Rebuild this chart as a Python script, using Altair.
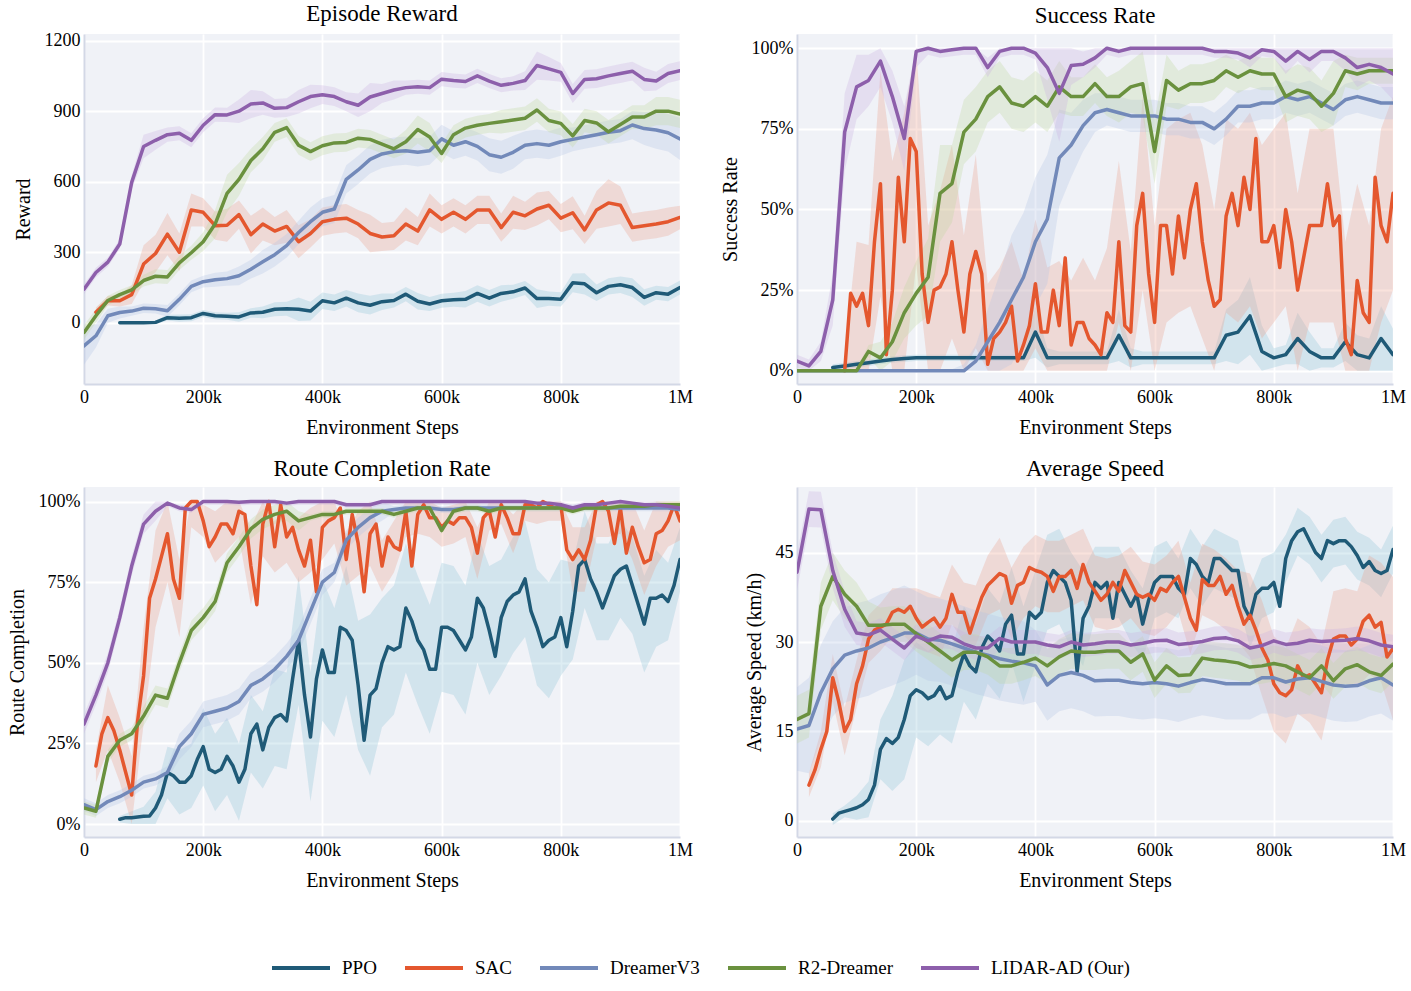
import altair as alt
import pandas as pd

FONT = "Liberation Serif"
SERIES = ["PPO", "SAC", "DreamerV3", "R2-Dreamer", "LIDAR-AD (Our)"]
LINE_COLORS = ["#1f5a77", "#e4572e", "#7289b9", "#6a913e", "#8d5fab"]
BAND_COLORS = {"PPO": "#8ec5d8", "SAC": "#eaa08c", "DreamerV3": "#b3c3e3",
               "R2-Dreamer": "#bfd6a0", "LIDAR-AD (Our)": "#cbb0e0"}

STEPS_10K = list(range(0, 1000001, 10000))
STEPS_20K = list(range(0, 1000001, 20000))
X_TICKS = [0, 200000, 400000, 600000, 800000, 1000000]

N = None
# ---------------- Episode Reward (20k grid) ----------------
ER_PPO = [N, N, N, 0, 0, 0, 2, 22, 20, 22,
          40, 30, 28, 25, 42, 45, 58, 60, 58, 50,
          94, 85, 105, 85, 75, 90, 95, 122, 92, 80,
          94, 98, 100, 125, 105, 125, 132, 148, 103, 103,
          100, 170, 166, 128, 155, 162, 150, 108, 128, 122,
          150]
ER_SAC = [N, 45, 94, 94, 120, 250, 295, 377, 300, 480,
          470, 413, 415, 460, 375, 420, 390, 410, 345, 380,
          430, 440, 445, 420, 380, 365, 370, 420, 390, 480,
          440, 470, 440, 480, 480, 405, 470, 455, 484, 500,
          445, 468, 395, 480, 510, 500, 405, 413, 420, 430,
          448]
ER_DREAMER = [-98, -55, 30, 44, 50, 62, 60, 51, 100, 155,
              175, 183, 188, 200, 228, 260, 290, 328, 384, 430,
              470, 484, 610, 650, 695, 718, 728, 732, 725, 732,
              782, 755, 770, 750, 715, 704, 725, 755, 762, 755,
              770, 780, 790, 800, 810, 817, 841, 826, 820, 808,
              782]
ER_R2 = [-41, 30, 95, 120, 140, 180, 198, 195, 255, 298,
         345, 420, 550, 610, 690, 740, 810, 830, 755, 728,
         753, 765, 767, 785, 780, 760, 740, 770, 822, 790,
         720, 800, 828, 840, 848, 855, 862, 870, 905, 860,
         848, 795, 860, 850, 812, 843, 875, 875, 900, 900,
         888]
ER_LIDAR = [143, 214, 258, 335, 597, 750, 776, 800, 806, 776,
            840, 885, 884, 900, 930, 935, 912, 915, 940, 962,
            970, 962, 940, 925, 960, 975, 990, 1000, 1004, 1000,
            1036, 1030, 1026, 1050, 1028, 1010, 1018, 1030, 1094, 1080,
            1065, 975, 1035, 1038, 1050, 1060, 1070, 1035, 1028, 1060,
            1072]
ER_PPO_SD = [0, 0, 0, 5, 5, 5, 8, 12, 15, 15,
             15, 15, 15, 20, 20, 25, 30, 30, 50, 40,
             35, 35, 35, 40, 40, 35, 30, 30, 35, 30,
             30, 30, 35, 35, 35, 35, 30, 30, 40, 30,
             30, 40, 45, 35, 35, 35, 40, 35, 30, 30,
             30]
ER_SAC_SD = [0, 20, 20, 25, 40, 80, 80, 90, 80, 70,
             60, 60, 70, 60, 80, 70, 60, 70, 70, 60,
             60, 60, 60, 60, 80, 60, 60, 70, 60, 70,
             60, 60, 60, 60, 60, 60, 70, 60, 70, 60,
             60, 70, 60, 80, 100, 80, 60, 60, 60, 60,
             50]
ER_DREAMER_SD = [80, 50, 30, 25, 20, 20, 20, 25, 25, 25,
                 25, 30, 30, 40, 40, 50, 50, 50, 50, 60,
                 60, 60, 60, 60, 60, 60, 60, 60, 60, 60,
                 60, 60, 60, 60, 70, 70, 70, 60, 60, 60,
                 60, 50, 50, 50, 50, 50, 60, 70, 80, 80,
                 90]
ER_R2_SD = [30, 30, 20, 20, 20, 25, 30, 30, 30, 30,
            40, 60, 80, 70, 50, 50, 40, 40, 40, 40,
            40, 40, 40, 40, 40, 40, 40, 50, 60, 60,
            40, 40, 40, 40, 40, 50, 50, 50, 50, 50,
            50, 50, 50, 50, 50, 50, 50, 50, 60, 60,
            60]
ER_LIDAR_SD = [20, 20, 20, 20, 30, 50, 40, 30, 30, 30,
               30, 30, 30, 50, 60, 50, 40, 40, 50, 50,
               40, 40, 40, 50, 60, 40, 40, 30, 30, 30,
               30, 30, 30, 30, 30, 30, 30, 40, 60, 50,
               40, 40, 40, 40, 40, 40, 40, 50, 40, 40,
               40]

# ---------------- Success Rate ----------------
SR_PPO = [N, N, N, 1, 1.5, 2, 2.5, 3, 3.5, 3.8,
          4, 4, 4, 4, 4, 4, 4, 4, 4, 4,
          12, 4, 4, 4, 4, 4, 4, 11, 4, 4,
          4, 4, 4, 4, 4, 4, 11, 12, 17, 6,
          4, 5, 10, 6, 4, 4, 9, 5, 4, 10,
          5]
SR_SAC = [N, N, N, N, N, N, N, N, 0, 24,
          20, 24, 14, 40, 58, 5, 25, 60, 40, 72,
          68, 30, 15, 25, 26, 30, 40, 25, 12, 30,
          37, 30, 2, 10, 12, 15, 20, 3, 8, 14,
          27, 12, 12, 25, 14, 35, 8, 15, 15, 10,
          8, 5, 18, 15, 40, 14, 12, 45, 55, 30,
          15, 45, 45, 30, 48, 35, 50, 58, 40, 28,
          20, 22, 48, 55, 45, 60, 50, 72, 40, 40,
          45, 32, 50, 40, 25, 35, 45, 45, 45, 58,
          45, 48, 10, 5, 28, 18, 15, 60, 45, 40,
          55]
SR_DREAMER = [0, 0, 0, 0, 0, 0, 0, 0, 0, 0,
              0, 0, 0, 0, 0, 3, 9, 15, 22, 29,
              40, 47, 66, 70, 76, 80, 81, 80, 79, 79,
              79, 78, 78, 77, 77, 75, 78, 82, 82, 83,
              83, 85, 84, 85, 83, 81, 84, 85, 84, 83,
              83]
SR_R2 = [0, 0, 0, 0, 0, 0, 6, 4, 9, 18,
         24, 29, 55, 58, 74, 78, 85, 88, 83, 82,
         85, 82, 88, 85, 85, 89, 85, 85, 88, 89,
         68, 90, 87, 89, 89, 90, 93, 91, 93, 92,
         92, 85, 87, 86, 82, 86, 93, 92, 93, 93,
         93]
SR_LIDAR = [3, 1.5, 6, 22, 74, 88, 90, 96, 85, 72,
            99, 100, 99, 99.5, 100, 100, 94, 99, 100, 100,
            98.5, 94, 86, 94.6, 95, 97, 100, 99, 100, 100,
            100, 100, 100, 100, 100, 99, 99, 98.5, 97, 99.5,
            99, 96, 99, 96.5, 99, 99, 97, 94, 95, 94,
            92]
SR_PPO_SD = [0, 0, 0, 1, 1, 1, 1, 1, 1, 1,
             1, 1, 1, 1, 1, 1, 1, 1, 1, 1,
             8, 3, 2, 2, 2, 2, 2, 8, 3, 2,
             2, 2, 2, 2, 2, 2, 8, 10, 12, 8,
             3, 3, 8, 6, 3, 3, 6, 6, 6, 10,
             8]
SR_SAC_SD = [0, 0, 0, 0, 5, 20, 25, 35, 40, 40,
             35, 30, 30, 30, 30, 30, 25, 20, 20, 20,
             20, 20, 20, 20, 20, 20, 20, 25, 25, 30,
             30, 30, 30, 30, 30, 30, 30, 30, 30, 30,
             30, 30, 30, 30, 30, 30, 30, 30, 30, 30,
             30]
SR_DREAMER_SD = [0.5, 0.5, 0.5, 0.5, 0.5, 0.5, 0.5, 0.5, 0.5, 0.5,
                 0.5, 0.5, 0.5, 0.5, 2, 5, 10, 15, 20, 20,
                 20, 20, 15, 10, 8, 6, 5, 5, 5, 5,
                 5, 5, 5, 5, 5, 5, 5, 5, 5, 5,
                 5, 5, 5, 5, 5, 5, 5, 5, 5, 5,
                 5]
SR_R2_SD = [0.5, 0.5, 0.5, 0.5, 0.5, 0.5, 2, 5, 6, 8,
            10, 12, 15, 12, 10, 10, 8, 8, 8, 8,
            8, 8, 8, 6, 6, 6, 6, 8, 8, 10,
            10, 8, 6, 6, 6, 6, 5, 5, 5, 5,
            5, 8, 8, 8, 8, 10, 5, 5, 4, 4,
            4]
SR_LIDAR_SD = [2, 2, 3, 8, 12, 10, 8, 8, 8, 10,
               5, 2, 2, 2, 2, 2, 3, 2, 2, 2,
               2, 10, 15, 6, 4, 3, 2, 2, 2, 2,
               2, 2, 2, 2, 2, 2, 2, 2, 3, 2,
               2, 4, 3, 4, 3, 3, 4, 6, 5, 6,
               8]

# ---------------- Route Completion ----------------
RC_PPO = [N, N, N, N, N, N, 1.5, 2, 2, 2.2,
          2.4, 2.5, 5, 9, 16, 15, 13, 13, 15, 20,
          24, 17, 16, 17, 21, 18, 13, 17, 28, 31,
          23, 30, 33, 34, 32, 45, 57, 40, 27, 45,
          54, 47, 47, 61, 60, 57, 43, 26, 40, 42,
          50, 55, 54, 55, 67, 63, 57, 54, 48, 48,
          61, 61, 60, 57, 54, 58, 70, 67, 60, 52,
          64, 69, 71, 72, 76, 66, 61, 55, 57, 58,
          64, 55, 66, 80, 82, 76, 72, 67, 72, 77,
          79, 80, 74, 68, 62, 70, 70, 71, 69, 74,
          82]
RC_SAC = [N, N, 18, 28, 33, 29, 23, 16, 9, 32,
          46, 70, 76, 83, 90, 76, 70, 98, 100, 100,
          94, 86, 89, 93, 93, 90, 97, 96, 80, 68,
          93, 100, 86, 99, 89, 92, 85, 80, 88, 72,
          92, 94, 95, 98, 82, 96, 87, 72, 90, 93,
          80, 89, 86, 85, 97, 80, 96, 99, 95, 95,
          92, 94, 93, 95, 95, 92, 84, 95, 97, 89,
          99, 95, 90, 90, 99, 99, 98, 100, 99, 98,
          99, 85, 82, 85, 82, 88, 99, 100, 97, 87,
          98, 84, 92, 86, 81, 82, 90, 91, 94, 99,
          94]
RC_DREAMER = [6, 4.5, 7, 8.5, 10.5, 13, 14, 16, 24, 28,
              34, 35, 36, 38, 43, 45, 48, 52, 57, 66,
              75, 78, 88, 92, 95, 97, 97.5, 98, 98, 98,
              97.5, 97.5, 98, 98, 98, 98, 98, 98, 98, 98,
              98, 98, 98, 98, 98, 98, 98, 98, 98, 98,
              97.5]
RC_R2 = [5, 4, 21, 26, 28, 33.5, 40, 39, 50, 60,
         64, 69, 81, 86, 91.5, 94.5, 96, 97, 94, 95,
         96, 96, 97, 97, 97, 97, 96, 97, 98, 98,
         91, 97, 98, 98, 97, 98, 98, 98, 98, 98,
         98, 97, 98, 98, 98, 98.5, 98.5, 98.5, 99, 99,
         99]
RC_LIDAR = [31, 40, 50, 64, 80, 93, 97, 99.5, 98, 97.5,
            100, 100, 100, 99.8, 100, 100, 100, 99.5, 100, 100,
            100, 100, 99, 99, 99, 100, 100, 100, 100, 100,
            100, 100, 100, 100, 100, 100, 100, 100, 99.5, 99.5,
            99, 98, 99, 99, 99.5, 100, 99.5, 99, 99, 98.5,
            98]
RC_PPO_SD = [0, 0, 0, 1, 2, 3, 5, 8, 10, 10,
             12, 12, 12, 12, 12, 12, 15, 15, 20, 20,
             22, 20, 20, 20, 25, 20, 20, 20, 20, 20,
             20, 20, 20, 20, 20, 18, 18, 18, 18, 18,
             18, 15, 15, 15, 15, 15, 15, 15, 15, 12,
             10]
RC_SAC_SD = [0, 5, 10, 10, 12, 15, 15, 15, 12, 8,
             5, 8, 8, 8, 12, 10, 8, 8, 10, 10,
             10, 8, 8, 10, 10, 8, 8, 8, 6, 6,
             6, 6, 6, 8, 6, 6, 6, 5, 5, 5,
             5, 10, 10, 10, 8, 8, 10, 10, 10, 8,
             6]
RC_DREAMER_SD = [2, 2, 2, 2, 2, 2, 2, 2, 4, 4,
                 4, 4, 4, 4, 4, 4, 4, 4, 4, 4,
                 4, 3, 3, 3, 3, 3, 1, 1, 1, 1,
                 1, 1, 1, 1, 1, 1, 1, 1, 1, 1,
                 1, 1, 1, 1, 1, 1, 1, 1, 1, 1,
                 1]
RC_R2_SD = [2, 2, 2, 2, 2, 3, 3, 3, 3, 3,
            3, 3, 3, 3, 3, 3, 3, 3, 3, 1,
            1, 1, 1, 1, 1, 1, 1, 1, 1, 1,
            1, 1, 1, 1, 1, 1, 1, 1, 1, 1,
            1, 1, 1, 1, 1, 1, 1, 1, 1, 1,
            1]
RC_LIDAR_SD = [3, 3, 3, 3, 3, 3, 3, 1, 1, 1,
               1, 1, 1, 1, 1, 1, 1, 1, 1, 1,
               1, 1, 1, 1, 1, 1, 1, 1, 1, 1,
               1, 1, 1, 1, 1, 1, 1, 1, 1, 1,
               1, 1, 1, 1, 1, 1, 1, 1, 1, 1,
               1]

# ---------------- Average Speed ----------------
AS_PPO = [N, N, N, N, N, N, 0.3, 1.3, 1.6, 1.9,
          2.2, 2.7, 3.6, 6, 12, 13.8, 13, 14, 17, 21,
          22, 21.5, 20.5, 21, 22.5, 20.5, 21, 25, 28, 26,
          25, 29, 31, 30, 28.5, 33, 34.5, 28, 28, 35,
          34, 35, 40, 42, 41, 40, 37, 25, 34, 36,
          40, 39, 40, 34, 40, 38, 36, 38, 33, 37,
          40, 41, 41, 41, 39, 38, 44, 43, 41, 40,
          44, 44, 43, 42, 42, 36, 34, 38, 39, 39,
          40, 36, 44, 47, 48.5, 49, 47, 45, 44, 47,
          46.5, 47, 47, 46, 44.5, 42.5, 43.5, 42, 41.5, 42,
          45.5]
AS_SAC = [N, N, 6, 8.5, 12, 15, 24, 20, 15, 17,
          23, 26, 30.5, 32, 32.5, 33, 35, 35.5, 35, 36,
          34, 32.5, 33.3, 34, 32.5, 34, 38, 35, 35, 31.5,
          34.5, 37.5, 39.5, 40.5, 41.5, 41, 36.5, 39.5, 40, 42.5,
          42, 41.7, 41, 38.5, 41, 41, 42, 39, 43, 40,
          38.5, 37, 38, 40, 38.5, 42, 40, 38, 37.5, 38,
          37, 39, 38.5, 40, 41, 37.5, 34, 32, 40.5, 39.5,
          39.5, 41, 38, 39.5, 36, 33, 34.5, 32, 29, 27,
          23, 21.5, 21, 22, 26, 24, 24.5, 23, 21.5, 27,
          30.5, 31, 31, 29.5, 30.5, 33.5, 34.5, 32.5, 33.3, 27.5,
          28.9]
AS_DREAMER = [15.4, 16, 21.5, 25.5, 27.8, 28.5, 29, 30, 30.7, 31.5,
              31.5, 30.5, 30.3, 29.7, 29, 28.3, 27.8, 27.2, 26.8, 26.5,
              26, 22.8, 24.4, 24.9, 24.4, 23.5, 23.6, 23.6, 23.2, 23,
              23.2, 23, 22.6, 23.2, 23.7, 23.4, 23, 23, 23, 24,
              24, 23.3, 23.8, 24, 23.4, 22.8, 22.6, 22.7, 23.5, 24,
              22.8]
AS_R2 = [17, 18, 36, 41, 38, 36, 32.8, 32.8, 33, 33,
         31.4, 30, 28.5, 27, 28.3, 28.3, 27.5, 26, 26, 26.6,
         27.3, 26, 27.5, 28.5, 28.3, 28.3, 28.5, 28.5, 26.6, 28,
         23.6, 26, 24.4, 24.5, 27.3, 27, 26.8, 26.5, 25.8, 26,
         26.4, 26, 25, 24, 26, 23.5, 25.5, 26.2, 25, 24.4,
         26.3]
AS_LIDAR = [41.7, 52.3, 52.2, 42, 35.5, 31.5, 31.2, 32, 30.5, 29,
            31, 30.2, 31, 30.8, 29.7, 29, 29, 30.6, 30, 30,
            30, 29.5, 29.2, 30, 29.5, 29.7, 30, 30, 29.5, 29.8,
            30.2, 30.3, 29.6, 29.8, 30.1, 30.6, 30.7, 30.2, 29, 29.4,
            30.2, 29.6, 29.8, 30.3, 30.1, 30.2, 30.3, 30.6, 30.2, 29.5,
            29.2]
AS_PPO_SD = [0, 0, 0, 1, 1, 2, 3, 5, 8, 10,
             8, 8, 8, 8, 8, 8, 8, 8, 8, 8,
             8, 8, 8, 8, 8, 6, 6, 6, 6, 6,
             6, 6, 5, 5, 5, 5, 5, 5, 5, 5,
             5, 4, 4, 4, 4, 4, 4, 4, 4, 4,
             4]
AS_SAC_SD = [0, 2, 3, 4, 4, 4, 4, 4, 4, 4,
             5, 5, 5, 5, 5, 5, 5, 6, 6, 6,
             6, 6, 6, 6, 6, 6, 6, 6, 6, 6,
             6, 6, 6, 6, 6, 6, 6, 6, 7, 8,
             8, 8, 8, 8, 8, 8, 8, 8, 10, 10,
             12]
AS_DREAMER_SD = [7, 8, 8, 8, 8, 8, 8, 8, 8, 8,
                 7, 7, 7, 7, 7, 7, 7, 7, 7, 7,
                 6, 6, 6, 6, 6, 6, 6, 6, 6, 6,
                 6, 6, 6, 6, 6, 6, 6, 6, 6, 6,
                 6, 6, 6, 6, 6, 6, 6, 6, 6, 6,
                 6]
AS_R2_SD = [4, 4, 4, 4, 4, 4, 4, 3, 3, 3,
            3, 3, 3, 3, 3, 3, 3, 3, 3, 3,
            3, 3, 3, 3, 3, 3, 3, 3, 3, 3,
            3, 3, 3, 3, 3, 3, 3, 3, 3, 3,
            3, 3, 3, 3, 3, 3, 3, 3, 3, 3,
            3]
AS_LIDAR_SD = [3, 3, 3, 3, 3, 2, 2, 2, 2, 2,
               2, 2, 2, 2, 2, 2, 2, 2, 2, 2,
               2, 2, 2, 2, 2, 2, 2, 2, 2, 2,
               2, 2, 2, 2, 2, 2, 2, 2, 2, 2,
               2, 2, 2, 2, 2, 2, 2, 2, 2, 2,
               2]


def build(vals_list, sd_list, clip_pct):
    line_rows, band_rows = [], []
    for s, vals, sd in zip(SERIES, vals_list, sd_list):
        fine = len(vals) == len(STEPS_10K)
        steps = STEPS_10K if fine else STEPS_20K
        for st, v in zip(steps, vals):
            if v is not None:
                line_rows.append({"series": s, "step": st, "value": v})
        centers = vals[::2] if fine else vals
        for st, c, d in zip(STEPS_20K, centers, sd):
            if c is None:
                continue
            lo, hi = c - d, c + d
            if clip_pct:
                lo, hi = max(lo, 0), min(hi, 100)
            band_rows.append({"series": s, "step": st, "lo": lo, "hi": hi,
                              "band": BAND_COLORS[s]})
    return pd.DataFrame(line_rows), pd.DataFrame(band_rows)


LEGEND = alt.Legend(orient="none", legendX=186, legendY=903, direction="horizontal",
                    columns=5, title=None, symbolType="stroke", symbolSize=3364,
                    symbolStrokeWidth=4, labelFont=FONT, labelFontSize=19,
                    labelColor="black", labelOffset=10, columnPadding=20)
COLOR = alt.Color("series:N", scale=alt.Scale(domain=SERIES, range=LINE_COLORS),
                  legend=LEGEND)

X_LABELS = ("datum.value == 0 ? '0' : datum.value >= 1000000 ? '1M' : "
            "format(datum.value / 1000, 'd') + 'k'")


def panel(vals_list, sd_list, clip_pct, title, ytitle, ydomain, yticks, pct):
    df_line, df_band = build(vals_list, sd_list, clip_pct)
    xenc = alt.X("step:Q", scale=alt.Scale(domain=[0, 1000000], nice=False, zero=False),
                 axis=alt.Axis(values=X_TICKS, labelExpr=X_LABELS, labelFlush=False,
                               title="Environment Steps"))
    yscale = alt.Scale(domain=ydomain, nice=False, zero=False)
    yaxis = alt.Axis(values=yticks, title=ytitle,
                     labelExpr="datum.value + '%'" if pct else "format(datum.value, 'd')")
    band = alt.Chart(df_band).mark_area(opacity=0.3, clip=True).encode(
        x=xenc, y=alt.Y("lo:Q", scale=yscale, axis=yaxis), y2="hi:Q",
        fill=alt.Fill("band:N", scale=None), detail="series:N")
    layers = [band]
    for s in SERIES:
        layers.append(
            alt.Chart(df_line).transform_filter(alt.datum.series == s)
            .mark_line(strokeWidth=3.5, clip=True, strokeJoin="round", strokeCap="round")
            .encode(x=xenc, y=alt.Y("value:Q", scale=yscale, axis=yaxis), color=COLOR)
        )
    return alt.layer(*layers).properties(width=596, height=350, title=title)


p1 = panel([ER_PPO, ER_SAC, ER_DREAMER, ER_R2, ER_LIDAR],
           [ER_PPO_SD, ER_SAC_SD, ER_DREAMER_SD, ER_R2_SD, ER_LIDAR_SD], False,
           "Episode Reward", "Reward", [-260, 1228], [0, 300, 600, 900, 1200], False)
p2 = panel([SR_PPO, SR_SAC, SR_DREAMER, SR_R2, SR_LIDAR],
           [SR_PPO_SD, SR_SAC_SD, SR_DREAMER_SD, SR_R2_SD, SR_LIDAR_SD], True,
           "Success Rate", "Success Rate", [-4.1, 104.4], [0, 25, 50, 75, 100], True)
p3 = panel([RC_PPO, RC_SAC, RC_DREAMER, RC_R2, RC_LIDAR],
           [RC_PPO_SD, RC_SAC_SD, RC_DREAMER_SD, RC_R2_SD, RC_LIDAR_SD], True,
           "Route Completion Rate", "Route Completion", [-4.0, 104.5], [0, 25, 50, 75, 100], True)
p4 = panel([AS_PPO, AS_SAC, AS_DREAMER, AS_R2, AS_LIDAR],
           [AS_PPO_SD, AS_SAC_SD, AS_DREAMER_SD, AS_R2_SD, AS_LIDAR_SD], False,
           "Average Speed", "Average Speed (km/h)", [-2.7, 56.0], [0, 15, 30, 45], False)

chart = (
    alt.concat(p1, p2, p3, p4, columns=2, spacing={"column": 27, "row": 21})
    .resolve_scale(color="shared")
    .properties(padding={"left": 7, "top": 2, "right": 5, "bottom": 5}, background="white")
    .configure_view(stroke=None, fill="#f0f2f7")
    .configure_axis(domainColor="#d3d8e6", domainWidth=2, gridColor="white", gridWidth=1.8,
                    ticks=False, labelFont=FONT, labelFontSize=18, labelColor="black",
                    titleFont=FONT, titleFontSize=20, titleFontWeight="normal",
                    titleColor="black", labelPadding=4, titlePadding=11)
    .configure_title(font=FONT, fontSize=23, fontWeight="normal", color="black", offset=6)
)

chart.save("out.html", embed_options={"renderer": "svg", "actions": False})
